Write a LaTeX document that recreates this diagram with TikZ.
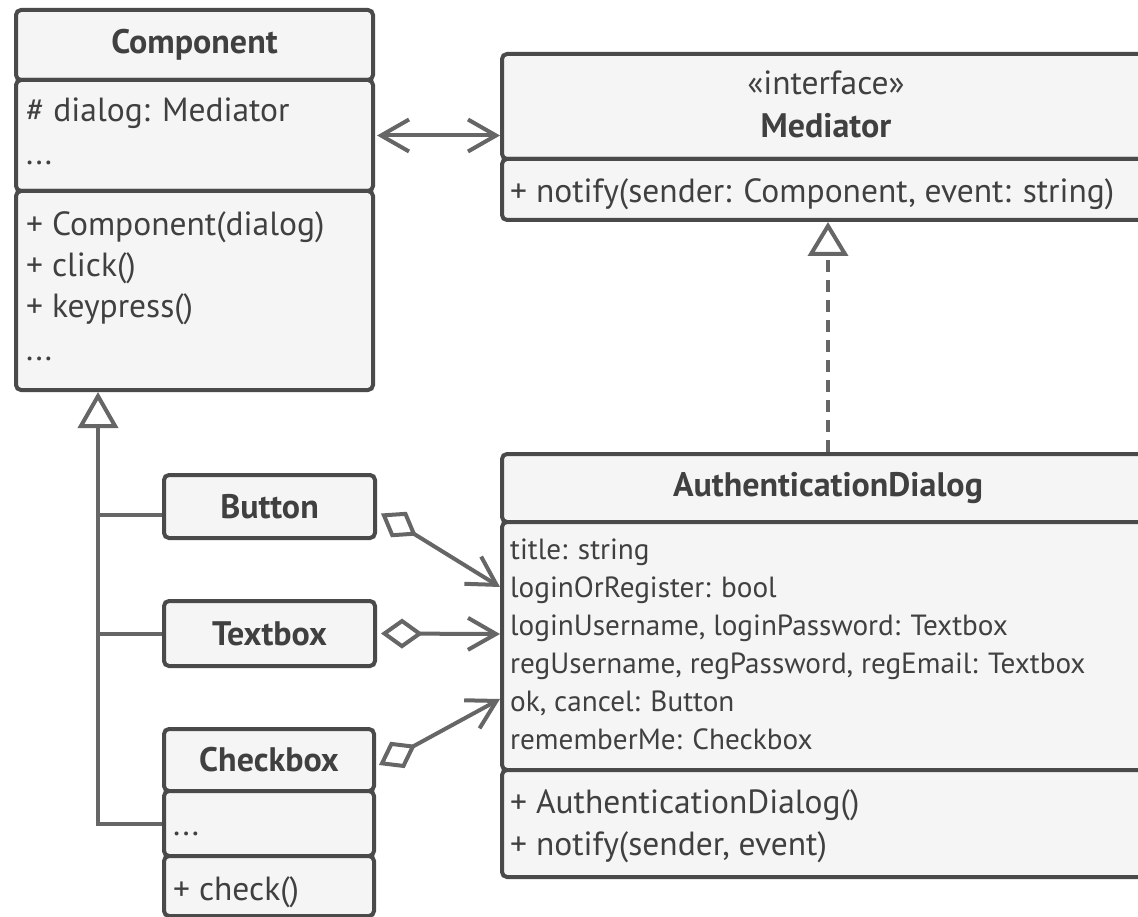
\documentclass[tikz,border=0pt]{standalone}
\usepackage{fontspec}
\setmainfont{PT Sans}
\usetikzlibrary{arrows.meta,positioning}
\definecolor{boxline}{RGB}{74,74,74}
\definecolor{boxfill}{RGB}{245,245,245}
\definecolor{boxtext}{RGB}{64,64,64}
\definecolor{linkgray}{RGB}{102,102,102}

\tikzset{
  classbox/.style={draw=boxline, fill=boxfill, line width=4pt, rounded corners=5pt,
    anchor=north west, inner sep=0pt},
  classname/.style={text=boxtext, font=\bfseries\fontsize{34}{40}\selectfont},
  member/.style={text=boxtext, anchor=base west, inner sep=0pt, font=\fontsize{33.5}{40}\selectfont},
  field/.style={member, font=\fontsize{29.2}{35}\selectfont},
  link/.style={draw=linkgray, line width=4pt},
  assoc/.style={link, {Straight Barb[length=28pt,width=32pt]}-{Straight Barb[length=28pt,width=32pt]}},
  agg/.style={link, {Diamond[open,length=42pt,width=30pt]}-{Straight Barb[length=28pt,width=32pt]}},
  realize/.style={link, dash pattern=on 12pt off 8pt, -{Triangle[open,length=34pt,width=40pt]}},
  inherit/.style={link, -{Triangle[open,length=36pt,width=40pt]}},
}

\begin{document}
\begin{tikzpicture}[x=1pt,y=-1pt]
  \useasboundingbox (0,0) rectangle (1138,917);

  % Component
  \node[classbox, minimum width=357pt, minimum height=70pt] (compName) at (14,8) {};
  \node[classbox, minimum width=357pt, minimum height=111pt] (compAttr) at (14,78) {};
  \node[classbox, minimum width=357pt, minimum height=199pt] (compOps) at (14,189) {};
  \node[classname] at (compName) {Component};
  \node[member] at (26,122) {\# dialog: Mediator};
  \node[member] at (26,165) {...};
  \foreach \yy/\txt in {236/{+ Component(dialog)}, 277/{+ click()}, 318/{+ keypress()}, 360/{...}}
    \node[member] at (26,\yy) {\txt};

  % Mediator
  \node[classbox, minimum width=652pt, minimum height=105pt] (medHead) at (500,52) {};
  \node[classbox, minimum width=652pt, minimum height=61pt] (medOps) at (500,157) {};
  \node[member, anchor=base] at (826,95) {«interface»};
  \node[classname, anchor=base, inner sep=0pt] at (826,138) {Mediator};
  \node[member] at (510,203) {+ notify(sender: Component, event: string)};

  % subclasses
  \node[classbox, minimum width=211pt, minimum height=63pt] (btnBox) at (162,473) {};
  \node[classname] at (btnBox) {Button};
  \node[classbox, minimum width=211pt, minimum height=65pt] (txtBox) at (162,599) {};
  \node[classname] at (txtBox) {Textbox};
  \node[classbox, minimum width=210pt, minimum height=62pt] (chkHead) at (162,727) {};
  \node[classbox, minimum width=210pt, minimum height=65pt] (chkAttr) at (162,789) {};
  \node[classbox, minimum width=210pt, minimum height=60pt] (chkOps) at (162,854) {};
  \node[classname] at (chkHead) {Checkbox};
  \node[member] at (173,835) {...};
  \node[member] at (173,900) {+ check()};

  % AuthenticationDialog
  \node[classbox, minimum width=652pt, minimum height=68pt] (dlgHead) at (500,452) {};
  \node[classbox, minimum width=652pt, minimum height=248pt] (dlgAttr) at (500,520) {};
  \node[classbox, minimum width=652pt, minimum height=107pt] (dlgOps) at (500,768) {};
  \node[classname] at (dlgHead) {AuthenticationDialog};
  \foreach \yy/\txt in {559/{title: string}, 597/{loginOrRegister: bool},
      635/{loginUsername, loginPassword: Textbox},
      673/{regUsername, regPassword, regEmail: Textbox},
      711/{ok, cancel: Button}, 749/{rememberMe: Checkbox}}
    \node[field] at (510,\yy) {\txt};
  \node[member] at (510,813) {+ AuthenticationDialog()};
  \node[member] at (510,855) {+ notify(sender, event)};

  % links
  \draw[assoc] ([xshift=2pt]compAttr.east) -- (compAttr.east -| medHead.west);
  \draw[realize] (dlgHead.north) -- (medOps.south);

  \coordinate (genTip) at ([xshift=84pt]compOps.south west);
  \coordinate (btnJoin) at ([yshift=-8pt]btnBox.west);
  \draw[inherit] (chkAttr.west) -| (genTip);
  \draw[link] (btnJoin) -- (btnJoin -| genTip);
  \draw[link] (txtBox.west) -- (txtBox.west -| genTip);

  \draw[agg] ([xshift=4pt,yshift=-7pt]btnBox.east) -- ([yshift=59pt]dlgAttr.west);
  \draw[agg] ([xshift=4pt]txtBox.east) -- ([yshift=12pt]dlgAttr.west);
  \draw[agg] ([xshift=3pt,yshift=-5pt]chkHead.east) -- ([yshift=-53pt]dlgAttr.west);
\end{tikzpicture}
\end{document}
